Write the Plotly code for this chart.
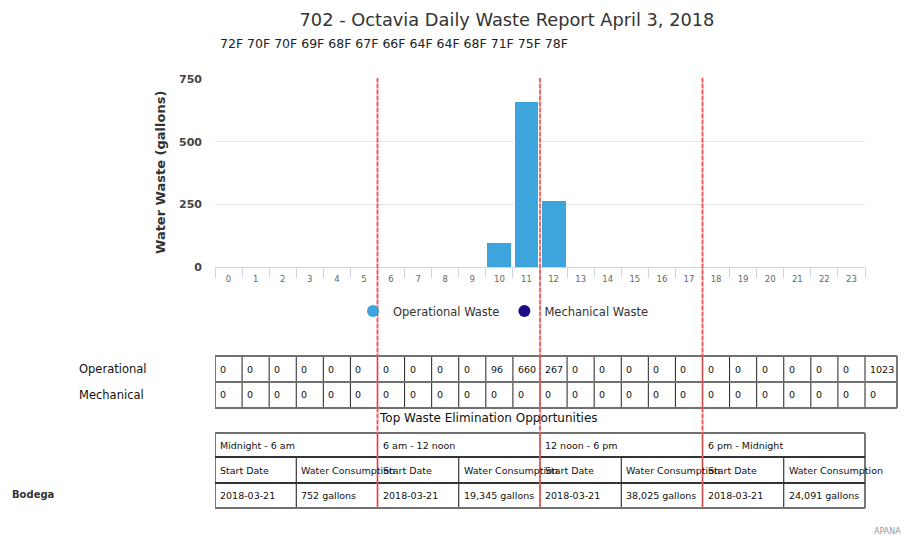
import plotly.graph_objects as go

# ---------------- data ----------------
hours = list(range(24))
operational = [0, 0, 0, 0, 0, 0, 0, 0, 0, 0, 96, 660, 267, 0, 0, 0, 0, 0, 0, 0, 0, 0, 0, 0]
mechanical = [0] * 24
temps = ["72F", "70F", "70F", "69F", "68F", "67F", "66F", "64F", "64F", "68F", "71F", "75F", "78F"]
y_ticks = [0, 250, 500, 750]
period_dividers = [5.5, 11.5, 17.5]
periods = ["Midnight - 6 am", "6 am - 12 noon", "12 noon - 6 pm", "6 pm - Midnight"]
start_dates = ["2018-03-21", "2018-03-21", "2018-03-21", "2018-03-21"]
consumption = [752, 19345, 38025, 24091]
row_labels = ["Operational", "Mechanical"]
site = "Bodega"
title_text = "702 - Octavia Daily Waste Report April 3, 2018"

# ---------------- geometry (layout only, page pixels) ----------------
OFF = 8                      # page body margin around the figure
FIGW, FIGH = 901, 532
ML, MR, MT, MB = 207, 9, 71, 32
PW = FIGW - ML - MR          # 685
PH = FIGH - MT - MB          # 429
CHART_W = 650
UNIT = CHART_W / 24.0
FONT = "DejaVu Sans"


def px(x):
    return (x - OFF - ML) / PW


def py(y):
    return (OFF + FIGH - MB - y) / PH


OP_COL = "#3da5dc"
MECH_COL = "#1e0b8a"
GRID = "#e6e6e6"
AXIS = "#ccd6eb"

fig = go.Figure()

fig.add_trace(go.Bar(x=hours, y=operational, name="Operational Waste",
                     marker=dict(color=OP_COL, line=dict(color="white", width=1)),
                     showlegend=False, hoverinfo="x+y"))
fig.add_trace(go.Bar(x=hours, y=mechanical, name="Mechanical Waste",
                     marker=dict(color=MECH_COL, line=dict(width=0)),
                     showlegend=False, hoverinfo="x+y"))
# legend entries (circle symbols)
fig.add_trace(go.Scatter(x=[None], y=[None], mode="markers", name="Operational Waste",
                         marker=dict(symbol="circle", size=12, color=OP_COL)))
fig.add_trace(go.Scatter(x=[None], y=[None], mode="markers", name="Mechanical Waste",
                         marker=dict(symbol="circle", size=12, color=MECH_COL)))
# helper subplot carrying the table scale (same px per hour as the chart)
fig.add_trace(go.Scatter(x=[None], y=[None], xaxis="x2", yaxis="y2", showlegend=False,
                         hoverinfo="skip"))

shapes = []
annos = []

# subtitle with temperatures
annos.append(dict(text=" ".join(temps), xref="paper", yref="paper", x=px(218), y=py(44),
                  xanchor="left", yanchor="middle", showarrow=False,
                  font=dict(family=FONT, size=12.5, color="#222")))
# y axis title
annos.append(dict(text="Water Waste (gallons)", xref="paper", yref="paper", x=px(160), y=py(173),
                  xanchor="center", yanchor="middle", textangle=-90, showarrow=False,
                  font=dict(family=FONT, size=13, color="#333", weight="bold")))

# ---------------- table 1: hourly values ----------------
T1 = [356, 382, 408]
total_right = 23.5 + 32 / UNIT
rows = [operational, mechanical]
for r, vals in enumerate(rows):
    top, bot = T1[r], T1[r + 1]
    cells = [str(v) for v in vals] + [str(sum(vals))]
    for i, txt in enumerate(cells):
        annos.append(dict(text=txt, xref="x2", yref="paper", x=i - 0.5, xshift=3,
                          y=py((top + bot) / 2), xanchor="left", yanchor="middle", showarrow=False,
                          font=dict(family=FONT, size=9.5, color="#111")))
    annos.append(dict(text=row_labels[r], xref="paper", yref="paper", x=px(77), y=py((top + bot) / 2),
                      xanchor="left", yanchor="middle", showarrow=False,
                      font=dict(family=FONT, size=11.5, color="#111")))
# vertical cell borders
for i in range(25):
    xb = i - 0.5
    shapes.append(dict(type="line", xref="x2", yref="paper", x0=xb, x1=xb, y0=py(T1[2]), y1=py(T1[0]),
                       line=dict(color="#222" if i > 0 else "#777", width=1 if i > 0 else 2), layer="above"))
shapes.append(dict(type="line", xref="x2", yref="paper", x0=total_right, x1=total_right,
                   y0=py(T1[2]), y1=py(T1[0]), line=dict(color="#777", width=2), layer="above"))
for yb in T1:
    shapes.append(dict(type="line", xref="x2", yref="paper", x0=-0.5, x1=total_right, y0=py(yb), y1=py(yb),
                       line=dict(color="#707070", width=2), layer="above"))

# ---------------- table 2: top waste elimination opportunities ----------------
annos.append(dict(text="Top Waste Elimination Opportunities", xref="paper", yref="paper", x=px(488.5),
                  y=py(418), xanchor="center", yanchor="middle", showarrow=False,
                  font=dict(family=FONT, size=12, color="#111")))
T2 = [433, 457, 483, 508]
for g, period in enumerate(periods):
    left = -0.5 + 6 * g
    mid = left + 3
    row_texts = [(left, period, 0), (left, "Start Date", 1), (mid, "Water Consumption", 1),
                 (left, start_dates[g], 2), (mid, f"{consumption[g]:,} gallons", 2)]
    for (xx, txt, r) in row_texts:
        annos.append(dict(text=txt, xref="x2", yref="paper", x=xx, xshift=3,
                          y=py((T2[r] + T2[r + 1]) / 2), xanchor="left", yanchor="middle",
                          showarrow=False, font=dict(family=FONT, size=9.5, color="#111")))
    shapes.append(dict(type="line", xref="x2", yref="paper", x0=left, x1=left, y0=py(T2[3]), y1=py(T2[0]),
                       line=dict(color="#222" if g > 0 else "#777", width=1 if g > 0 else 2), layer="above"))
    shapes.append(dict(type="line", xref="x2", yref="paper", x0=mid, x1=mid, y0=py(T2[3]), y1=py(T2[1]),
                       line=dict(color="#111", width=1), layer="above"))
shapes.append(dict(type="line", xref="x2", yref="paper", x0=23.5, x1=23.5, y0=py(T2[3]), y1=py(T2[0]),
                   line=dict(color="#777", width=2), layer="above"))
for k, yb in enumerate(T2):
    shapes.append(dict(type="line", xref="x2", yref="paper", x0=-0.5, x1=23.5, y0=py(yb), y1=py(yb),
                       line=dict(color="#707070" if k in (0, 3) else "#333", width=2), layer="above"))
annos.append(dict(text=site, xref="paper", yref="paper", x=px(10), y=py(494), xanchor="left",
                  yanchor="middle", showarrow=False,
                  font=dict(family=FONT, size=10, color="#333", weight="bold")))
annos.append(dict(text="APANA", xref="paper", yref="paper", x=px(903), y=py(531), xanchor="right",
                  yanchor="middle", showarrow=False, font=dict(family=FONT, size=8, color="#999")))

# ---------------- period divider lines ----------------
for d in period_dividers:
    shapes.append(dict(type="line", xref="x", yref="paper", x0=d, x1=d, y0=0, y1=py(78),
                       line=dict(color="rgba(245,100,100,0.5)", width=2), layer="above"))
    shapes.append(dict(type="line", xref="x", yref="paper", x0=d, x1=d, y0=0, y1=py(78),
                       line=dict(color="#f25050", width=1.5, dash="4px,2px"), layer="above"))

fig.update_layout(
    width=FIGW, height=FIGH,
    margin=dict(l=ML, r=MR, t=MT, b=MB, pad=0),
    paper_bgcolor="white", plot_bgcolor="rgba(0,0,0,0)",
    font=dict(family=FONT, color="#333"),
    title=dict(text=title_text, x=(507 - OFF) / FIGW, xref="container", xanchor="center",
               y=1 - (20 - OFF) / FIGH, yref="container", yanchor="middle",
               font=dict(family=FONT, size=17.8, color="#333")),
    barmode="stack", bargap=0.08,
    xaxis=dict(domain=[0, CHART_W / PW], type="category", range=[-0.5, 23.5],
               tickson="boundaries", ticks="outside", ticklen=10, tickcolor=AXIS, tickwidth=1,
               showline=True, linecolor=AXIS, linewidth=1, showgrid=False, zeroline=False,
               tickfont=dict(family=FONT, size=8.5, color="#666"), ticklabelstandoff=4,
               fixedrange=True),
    yaxis=dict(domain=[py(267), 1], range=[0, 750], tickvals=y_ticks, showgrid=True, gridcolor=GRID,
               gridwidth=1, zeroline=False, showline=False, ticks="",
               tickfont=dict(family=FONT, size=11, color="#444", weight="bold"),
               ticklabelstandoff=12, fixedrange=True),
    xaxis2=dict(domain=[0, 1], anchor="y2", type="linear", range=[-0.5, -0.5 + PW / UNIT],
                visible=False, fixedrange=True),
    yaxis2=dict(domain=[0, 0.05], anchor="x2", range=[0, 1], visible=False, fixedrange=True),
    legend=dict(orientation="h", x=px(353), xanchor="left", y=py(311), yanchor="middle",
                traceorder="normal",
                font=dict(family=FONT, size=11.5, color="#333"), bgcolor="rgba(0,0,0,0)",
                itemclick=False, itemdoubleclick=False),
    shapes=shapes, annotations=annos,
)

fig.write_html("out.html")
